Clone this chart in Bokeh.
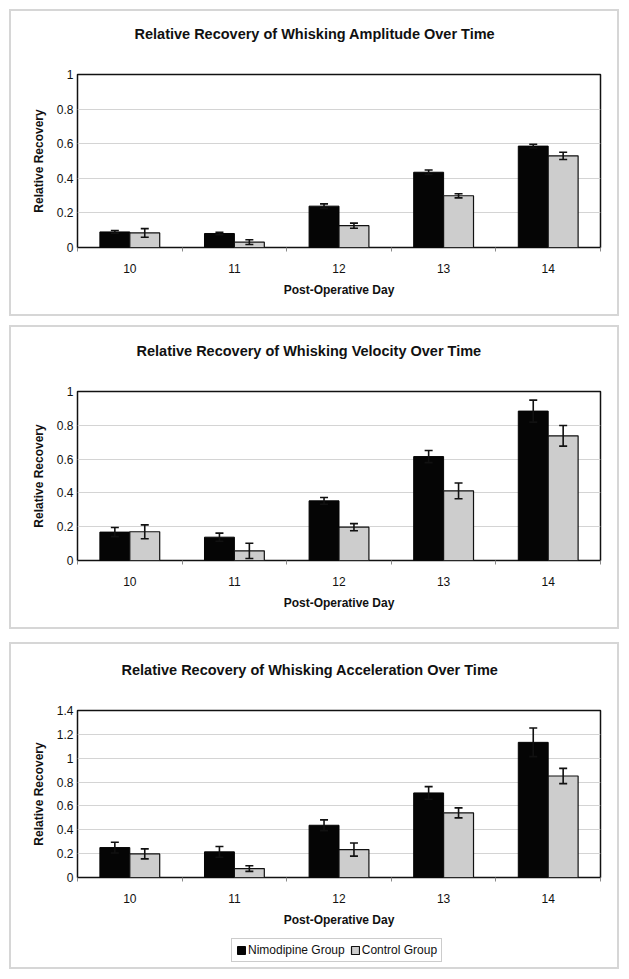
from bokeh.plotting import figure
from bokeh.models import (ColumnDataSource, Whisker, TeeHead, FixedTicker,
                          NumeralTickFormatter, Legend, LegendItem, Title, Range1d, Spacer)
from bokeh.layouts import column
from bokeh.embed import file_html
from bokeh.resources import INLINE

# ---------------- data ----------------
days = [10, 11, 12, 13, 14]

amp_nimo = [0.090, 0.081, 0.239, 0.435, 0.586]
amp_nimo_err = [0.008, 0.007, 0.013, 0.013, 0.011]
amp_ctrl = [0.084, 0.031, 0.126, 0.299, 0.530]
amp_ctrl_err = [0.025, 0.014, 0.015, 0.012, 0.021]

vel_nimo = [0.168, 0.138, 0.353, 0.615, 0.884]
vel_nimo_err = [0.027, 0.024, 0.020, 0.036, 0.065]
vel_ctrl = [0.170, 0.057, 0.197, 0.412, 0.738]
vel_ctrl_err = [0.041, 0.045, 0.021, 0.047, 0.061]

acc_nimo = [0.251, 0.215, 0.438, 0.709, 1.133]
acc_nimo_err = [0.045, 0.045, 0.045, 0.053, 0.120]
acc_ctrl = [0.198, 0.075, 0.234, 0.542, 0.851]
acc_ctrl_err = [0.042, 0.024, 0.055, 0.042, 0.064]

y_ticks_1 = [0, 0.2, 0.4, 0.6, 0.8, 1.0]
y_ticks_3 = [0, 0.2, 0.4, 0.6, 0.8, 1.0, 1.2, 1.4]

titles = ["Relative Recovery of Whisking Amplitude Over Time",
          "Relative Recovery of Whisking Velocity Over Time",
          "Relative Recovery of Whisking Acceleration Over Time"]
x_title = "Post-Operative Day"
y_title = "Relative Recovery"
series_names = ["Nimodipine Group", "Control Group"]

FONT = "Liberation Sans"
BAR_W = 0.286
NIMO_FILL = "#050505"
CTRL_FILL = "#cdcdcd"
EDGE = "#111111"


def make_source(nimo, nimo_err, ctrl, ctrl_err):
    return ColumnDataSource(dict(
        xn=[d - BAR_W / 2 for d in days],
        xc=[d + BAR_W / 2 for d in days],
        nimo=nimo, ctrl=ctrl,
        nlo=[v - e for v, e in zip(nimo, nimo_err)],
        nhi=[v + e for v, e in zip(nimo, nimo_err)],
        clo=[v - e for v, e in zip(ctrl, ctrl_err)],
        chi=[v + e for v, e in zip(ctrl, ctrl_err)],
    ))


def add_bars(p, src):
    rn = p.vbar(x="xn", top="nimo", width=BAR_W, source=src,
                fill_color=NIMO_FILL, line_color=NIMO_FILL, line_width=1)
    rc = p.vbar(x="xc", top="ctrl", width=BAR_W, source=src,
                fill_color=CTRL_FILL, line_color=EDGE, line_width=1.2)
    return rn, rc


def make_panel(title, src, yticks, height, mb_top, mb_bottom, title_offset, title_gap):
    p = figure(width=606, height=height, output_backend="svg", toolbar_location=None,
               x_range=Range1d(days[0] - 0.5, days[-1] + 0.5),
               y_range=Range1d(yticks[0], yticks[-1]),
               min_border_left=66, min_border_right=17,
               min_border_top=mb_top, min_border_bottom=mb_bottom,
               background_fill_color="white", border_fill_color="white")
    p.outline_line_color = EDGE
    p.outline_line_width = 1.5

    # spacer between frame and title
    p.add_layout(Title(text=" ", text_font_size="1px", standoff=title_gap), "above")
    t = Title(text=title, align="left", offset=title_offset, standoff=0,
              vertical_align="bottom",
              text_font=FONT, text_font_size="14.5px", text_font_style="bold",
              text_color=EDGE)
    p.add_layout(t, "above")

    add_bars(p, src)

    for xcol, lo, hi in (("xn", "nlo", "nhi"), ("xc", "clo", "chi")):
        w = Whisker(base=xcol, lower=lo, upper=hi, source=src, level="annotation",
                    line_color=EDGE, line_width=1.6,
                    upper_head=TeeHead(size=8, line_width=1.6, line_color=EDGE),
                    lower_head=TeeHead(size=8, line_width=1.6, line_color=EDGE))
        p.add_layout(w)

    # x axis
    xa = p.xaxis[0]
    xa.ticker = FixedTicker(ticks=days, minor_ticks=[d + 0.5 for d in [days[0] - 1] + days])
    xa.axis_line_color = None
    xa.major_tick_line_color = None
    xa.major_tick_in = 0
    xa.major_tick_out = 0
    xa.minor_tick_in = 0
    xa.minor_tick_out = 4
    xa.minor_tick_line_color = "#8a8a8a"
    xa.major_label_standoff = 12
    xa.major_label_text_font = FONT
    xa.major_label_text_font_size = "12px"
    xa.major_label_text_color = EDGE
    xa.axis_label = x_title
    xa.axis_label_text_font = FONT
    xa.axis_label_text_font_size = "12px"
    xa.axis_label_text_font_style = "bold"
    xa.axis_label_text_color = EDGE
    xa.axis_label_standoff = 7

    # y axis
    ya = p.yaxis[0]
    ya.ticker = FixedTicker(ticks=yticks)
    ya.formatter = NumeralTickFormatter(format="0.[0]")
    ya.axis_line_color = None
    ya.major_tick_line_color = None
    ya.major_tick_in = 0
    ya.major_tick_out = 0
    ya.minor_tick_line_color = None
    ya.major_label_standoff = 4
    ya.major_label_text_font = FONT
    ya.major_label_text_font_size = "12px"
    ya.major_label_text_color = EDGE
    ya.axis_label = y_title
    ya.axis_label_text_font = FONT
    ya.axis_label_text_font_size = "12px"
    ya.axis_label_text_font_style = "bold"
    ya.axis_label_text_color = EDGE
    ya.axis_label_standoff = 8

    p.xgrid.visible = False
    p.ygrid.grid_line_color = "#d4d4d4"
    p.ygrid.grid_line_width = 1
    return p


def make_legend_fig(src):
    # legend-only strip: the bars are drawn far outside its visible y range
    lf = figure(width=606, height=37, output_backend="svg", toolbar_location=None,
                x_range=Range1d(days[0] - 0.5, days[-1] + 0.5),
                y_range=Range1d(10, 11), x_axis_type=None, y_axis_type=None,
                min_border=0, background_fill_color="white", border_fill_color="white")
    lf.outline_line_color = None
    lf.grid.visible = False
    rn, rc = add_bars(lf, src)
    lg = Legend(items=[LegendItem(label=series_names[0], renderers=[rn]),
                       LegendItem(label=series_names[1], renderers=[rc])],
                orientation="horizontal", location=(154, 5),
                label_text_font=FONT, label_text_font_size="12px",
                label_text_color=EDGE,
                glyph_width=10, glyph_height=10, label_height=11,
                label_standoff=2, spacing=5, padding=4, margin=0,
                border_line_color="#9a9a9a", border_line_width=1,
                background_fill_color="white", background_fill_alpha=1)
    lf.add_layout(lg, "center")
    return lf


BORDER = {"border": "2px solid #d6d6d6"}

src1 = make_source(amp_nimo, amp_nimo_err, amp_ctrl, amp_ctrl_err)
src2 = make_source(vel_nimo, vel_nimo_err, vel_ctrl, vel_ctrl_err)
src3 = make_source(acc_nimo, acc_nimo_err, acc_ctrl, acc_ctrl_err)

p1 = make_panel(titles[0], src1, y_ticks_1, 303, 63, 67, 57, 30)
p2 = make_panel(titles[1], src2, y_ticks_1, 300, 64, 67, 59, 30)
p3 = make_panel(titles[2], src3, y_ticks_3, 286, 66, 53, 44, 30)
lf = make_legend_fig(src3)

box1 = column(p1, styles=BORDER)
box2 = column(p2, styles=BORDER)
box3 = column(p3, lf, spacing=0, styles=BORDER)

layout = column(box1, Spacer(height=9), box2, Spacer(height=13), box3, spacing=0,
                margin=(9, 0, 0, 9))

open("out.html", "w").write(file_html(layout, INLINE))
